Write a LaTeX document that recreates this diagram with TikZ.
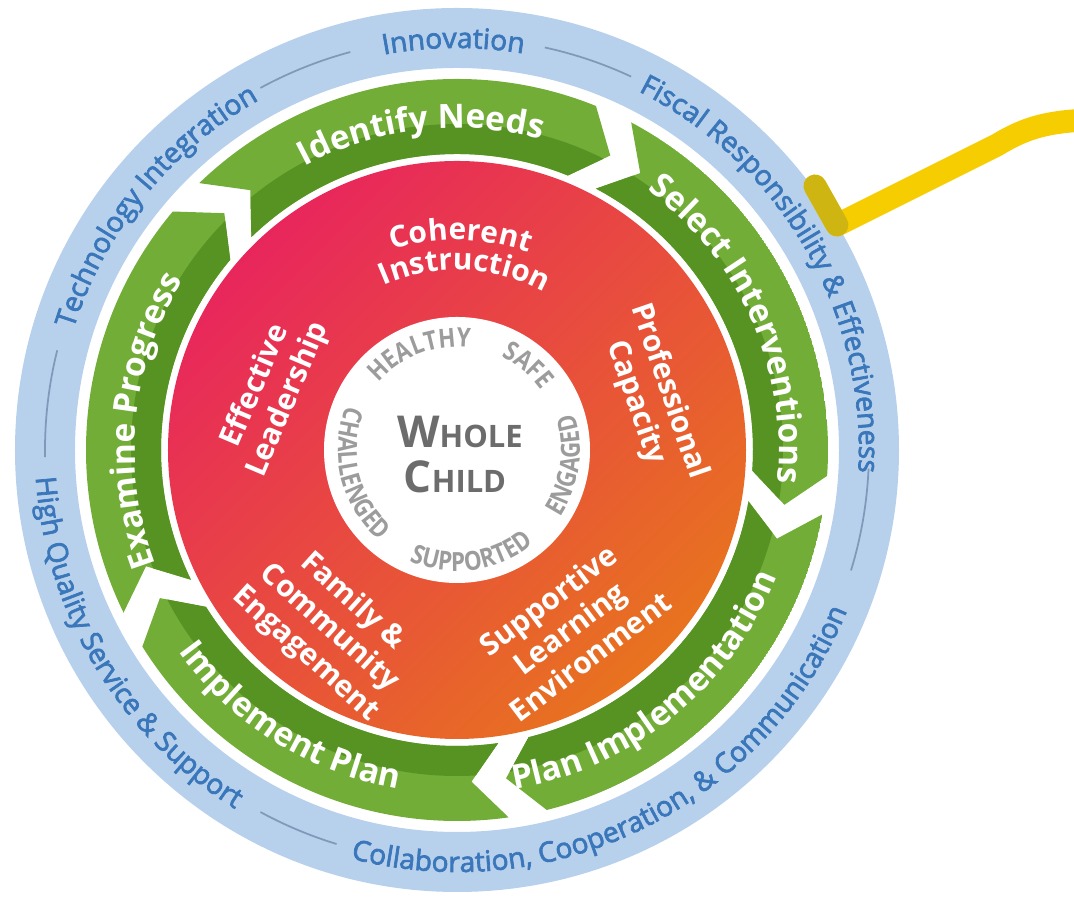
\documentclass[tikz,border=0pt]{standalone}
\usepackage{fontspec}
\setmainfont{Open Sans}
\newfontfamily\narrowfont[FakeStretch=0.85]{Open Sans}
\newfontfamily\ringfont[FakeBold=2.5]{Open Sans}
\usetikzlibrary{decorations.text}

\definecolor{ringblue}{HTML}{B7D0EC}
\definecolor{ringtext}{HTML}{3A77BA}
\definecolor{ringline}{HTML}{7F9AB8}
\definecolor{leafgreen}{HTML}{72AD37}
\definecolor{darkgreen}{HTML}{579323}
\definecolor{coretop}{HTML}{E8265C}
\definecolor{coremid}{HTML}{EA4A40}
\definecolor{corebot}{HTML}{E8731F}
\definecolor{childgray}{HTML}{6C6C6C}
\definecolor{wordgray}{HTML}{9C9C9C}
\definecolor{hookyellow}{HTML}{F6CD00}
\definecolor{hookshade}{HTML}{CFB512}

% text bent along a circle round the origin:
% #1 centre angle, #2 baseline radius, #3 format, #4 text
\newcommand{\cwlabel}[4]{%
  \path[decorate, decoration={text along path, text align=center, text={|#3|#4}}]
    ({#1+80}:#2) arc[start angle={#1+80}, end angle={#1-80}, radius=#2];}
\newcommand{\ccwlabel}[4]{%
  \path[decorate, decoration={text along path, text align=center, text={|#3|#4}}]
    ({#1-80}:#2) arc[start angle={#1-80}, end angle={#1+80}, radius=#2];}

\newcommand{\ringfmt}{\ringfont\fontsize{8}{10}\selectfont\color{ringtext}}
\newcommand{\stepfmt}{\bfseries\fontsize{9.5}{12}\selectfont\color{white}}
\newcommand{\corefmt}{\bfseries\fontsize{8.5}{10}\selectfont\color{white}}
\newcommand{\wordfmt}{\narrowfont\bfseries\fontsize{7.5}{8}\selectfont\color{wordgray}}

\begin{document}
\begin{tikzpicture}[
    redlabel/.style={text=white, align=center, font=\bfseries\fontsize{8.5}{10}\selectfont},
    hook/.style={line width=6.5pt, line join=round, line cap=round}]
  \useasboundingbox (-4.57,-4.49) rectangle (6.17,4.50);
  \def\rin{2.96}
  \def\rout{3.71}
  \def\rmid{3.32}
  \def\tip{5.5}

  % outer ring with the district values
  \fill[ringblue, even odd rule] (0,0) circle (4.42) (0,0) circle (3.82);
  \foreach \a/\b in {105/118.5, 65/77.7, -17/-2.6, 241.5/253, 166/181}
    \draw[ringline, line width=0.5pt] (\a:4.12) arc[start angle=\a, end angle=\b, radius=4.12];

  \cwlabel{90.5}{4.02}{\ringfmt}{Innovation}
  \cwlabel{141}{4.02}{\ringfmt}{Technology Integration}
  \cwlabel{30}{4.02}{\ringfmt}{Fiscal Responsibility {\&} Effectiveness}
  \ccwlabel{-149}{4.22}{\ringfmt}{High Quality Service {\&} Support}
  \ccwlabel{-63.5}{4.22}{\ringfmt}{Collaboration, Cooperation, {\&} Communication}

  % improvement cycle, five arrows running clockwise
  \foreach \t in {134,62,-10,-82,-154} {
    \pgfmathsetmacro\h{\t-66}
    \begin{scope}
      \clip (\t:\rout) arc[start angle=\t, end angle=\h, radius=\rout]
        -- ({\h-\tip}:\rmid) -- (\h:\rin)
        arc[start angle=\h, end angle=\t, radius=\rin]
        -- ({\t-\tip}:\rmid) -- cycle;
      \fill[leafgreen] (0,0) circle (\rout);
      \fill[darkgreen] (0,0) circle (3.26);
    \end{scope}
  }

  \cwlabel{96.5}{3.22}{\stepfmt}{Identify Needs}
  \cwlabel{24}{3.22}{\stepfmt}{Select Interventions}
  \ccwlabel{-51}{3.44}{\stepfmt}{Plan Implementation}
  \ccwlabel{-122}{3.44}{\stepfmt}{Implement Plan}
  \cwlabel{174.5}{3.22}{\stepfmt}{Examine Progress}

  % the five supports
  \shade[top color=coretop, middle color=coremid, bottom color=corebot, shading angle=45]
    (0,0) circle (2.89);
  \cwlabel{89}{2.10}{\corefmt}{Coherent}
  \cwlabel{87.5}{1.80}{\corefmt}{Instruction}
  \node[redlabel, rotate=-71] (capacity) at (1.95,0.53) {Professional\\Capacity};
  \node[redlabel, rotate=37] (environment) at (1.12,-1.78) {Supportive\\Learning\\Environment};
  \node[redlabel, rotate=-42] (family) at (-1.28,-1.78) {Family \&\\Community\\Engagement};
  \node[redlabel, rotate=67] (leadership) at (-1.85,0.57) {Effective\\Leadership};

  % whole child in the middle
  \fill[white] (0,0) circle (1.33);
  \cwlabel{111}{1.03}{\wordfmt}{HEALTHY}
  \cwlabel{50}{1.03}{\wordfmt}{SAFE}
  \ccwlabel{-8}{1.23}{\wordfmt}{ENGAGED}
  \ccwlabel{-82}{1.21}{\wordfmt}{SUPPORTED}
  \ccwlabel{194}{1.19}{\wordfmt}{CHALLENGED}
  \node[anchor=base, text=childgray, font=\bfseries] (whole) at (0.03,0.02)
    {{\fontsize{12.5}{12}\selectfont W}{\fontsize{8.8}{10}\selectfont HOLE}};
  \node[anchor=base, text=childgray, font=\bfseries] (child) at (-0.02,-0.43)
    {{\fontsize{12.5}{12}\selectfont C}{\fontsize{8.8}{10}\selectfont HILD}};

  % yellow hook at the rim
  \coordinate (h1) at (3.58,2.64);
  \coordinate (h2) at (3.80,2.25);
  \coordinate (h3) at (5.40,3.05);
  \coordinate (h4) at (6.30,3.30);
  \draw[hook, hookyellow] (h1) -- (h2) -- (h3) .. controls (5.65,3.20) and (5.85,3.28) .. (h4);
  \draw[hook, hookshade] (h1) -- (h2);
\end{tikzpicture}
\end{document}
